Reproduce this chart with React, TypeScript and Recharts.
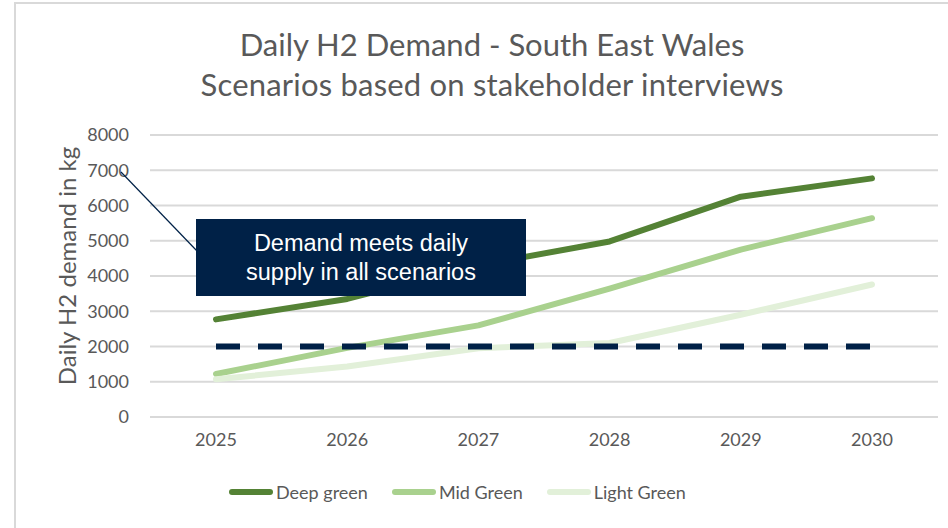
import { CartesianGrid, Line, LineChart, XAxis, YAxis } from "recharts";

const years = ["2025", "2026", "2027", "2028", "2029", "2030"];
const deepGreen = [2770, 3350, 4300, 4980, 6250, 6770];
const midGreen = [1220, 1960, 2600, 3640, 4750, 5640];
const lightGreen = [1070, 1430, 1950, 2100, 2900, 3760];
const supply = [2000, 2000, 2000, 2000, 2000, 2000];
const yTicks = [0, 1000, 2000, 3000, 4000, 5000, 6000, 7000, 8000];

const series = [
  { key: "deep", name: "Deep green", color: "#548235" },
  { key: "mid", name: "Mid Green", color: "#A9D18E" },
  { key: "light", name: "Light Green", color: "#E2F0D9" },
];

const data = years.map((year, i) => ({
  year,
  deep: deepGreen[i],
  mid: midGreen[i],
  light: lightGreen[i],
  supply: supply[i],
}));

const grey = "#595959";
const navy = "#002147";
const font = "Lato, 'Open Sans', sans-serif";

export default function App() {
  return (
    <div
      style={{
        position: "fixed",
        left: 0,
        top: 0,
        width: 948,
        height: 528,
        background: "#fff",
        fontFamily: font,
        overflow: "hidden",
      }}
    >
      {/* frame */}
      <div
        style={{
          position: "absolute",
          left: 14,
          top: 2,
          width: 960,
          height: 560,
          borderTop: "2px solid #d9d9d9",
          borderLeft: "2px solid #d9d9d9",
        }}
      />
      <div
        style={{
          position: "absolute",
          left: 0,
          top: 24,
          width: 984,
          textAlign: "center",
          color: grey,
          fontSize: 31,
          lineHeight: "40px",
        }}
      >
        Daily H2 Demand - South East Wales
        <br />
        <span style={{ letterSpacing: 0.2 }}>Scenarios based on stakeholder interviews</span>
      </div>

      <LineChart
        width={948}
        height={528}
        data={data}
        margin={{ top: 135, right: 10, bottom: 81, left: 0 }}
        style={{ position: "absolute", left: 0, top: 0 }}
      >
        <CartesianGrid vertical={false} stroke="#d9d9d9" strokeWidth={2} />
        <XAxis
          dataKey="year"
          height={30}
          axisLine={false}
          tickLine={false}
          tickSize={0}
          tickMargin={16}
          padding={{ left: 66, right: 66 }}
          tick={{ fill: grey, fontSize: 18, fontFamily: font }}
        />
        <YAxis
          width={150}
          domain={[0, 8000]}
          ticks={yTicks}
          interval={0}
          axisLine={false}
          tickLine={false}
          tickSize={0}
          tickMargin={21}
          tick={{ fill: grey, fontSize: 18, fontFamily: font }}
        />
        {series.map((s) => (
          <Line
            key={s.key}
            type="linear"
            dataKey={s.key}
            name={s.name}
            stroke={s.color}
            strokeWidth={6}
            strokeLinecap="round"
            strokeLinejoin="round"
            dot={false}
            activeDot={false}
            isAnimationActive={false}
          />
        ))}
        <Line
          type="linear"
          dataKey="supply"
          stroke={navy}
          strokeWidth={6}
          strokeDasharray="24 18"
          dot={false}
          activeDot={false}
          legendType="none"
          isAnimationActive={false}
        />
      </LineChart>

      {/* y axis title */}
      <div
        style={{
          position: "absolute",
          left: 66,
          top: 266,
          transform: "translate(-50%, -50%) rotate(-90deg)",
          whiteSpace: "nowrap",
          color: grey,
          fontSize: 24,
        }}
      >
        Daily H2 demand in kg
      </div>

      {/* callout */}
      <svg
        width={948}
        height={528}
        style={{ position: "absolute", left: 0, top: 0, pointerEvents: "none" }}
      >
        <line x1={121} y1={172} x2={197} y2={251} stroke={navy} strokeWidth={1.2} />
      </svg>
      <div
        style={{
          position: "absolute",
          left: 196,
          top: 219,
          width: 330,
          height: 77,
          background: navy,
          color: "#fff",
          fontFamily: "'Liberation Sans', Arial, sans-serif",
          fontSize: 23.5,
          lineHeight: "29px",
          textAlign: "center",
          display: "flex",
          alignItems: "center",
          justifyContent: "center",
        }}
      >
        Demand meets daily
        <br />
        supply in all scenarios
      </div>

      {/* legend */}
      <div
        style={{
          position: "absolute",
          left: 229,
          top: 481,
          display: "flex",
          gap: 24,
          color: grey,
          fontSize: 18,
        }}
      >
        {series.map((s) => (
          <div key={s.key} style={{ display: "flex", alignItems: "center" }}>
            <div
              style={{
                width: 44,
                height: 6,
                borderRadius: 3,
                background: s.color,
                marginRight: 3,
              }}
            />
            <span>{s.name}</span>
          </div>
        ))}
      </div>
    </div>
  );
}
